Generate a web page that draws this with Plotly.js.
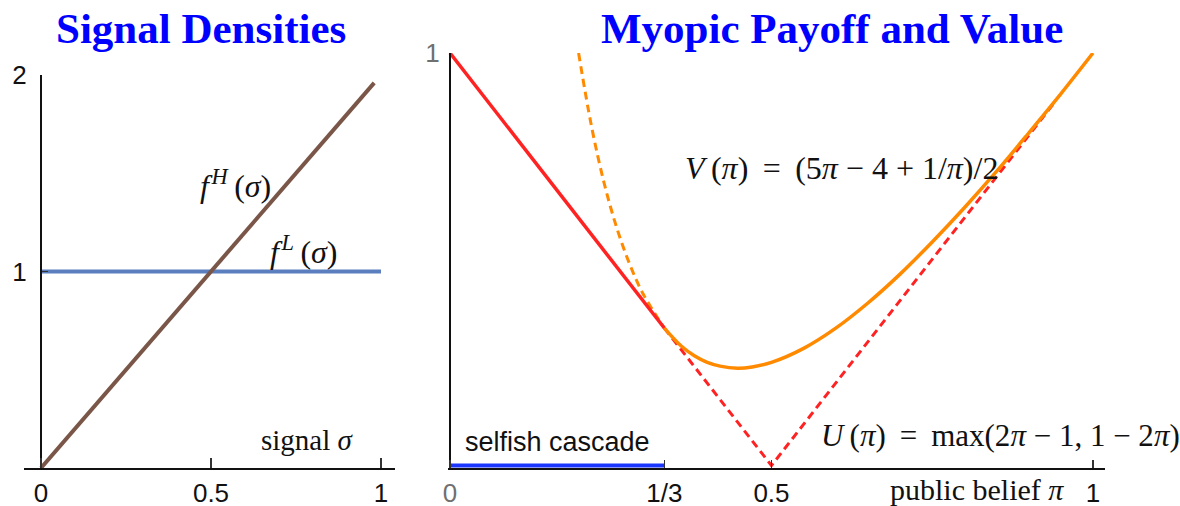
<!DOCTYPE html>
<html>
<head>
<meta charset="utf-8">
<script src="https://cdn.plot.ly/plotly-3.0.1.min.js"></script>
<style>html,body{margin:0;padding:0;background:#fff}#chart{width:1180px;height:506px}</style>
</head>
<body>
<div id="chart"></div>
<script>
// ---- Left panel: signal densities ----
const sigmaH = [0, 0.98];
const densH = [0, 1.96];
const sigmaL = [0, 1];
const densL = [1, 1];
const leftXTicks = [0, 0.5, 1];
const leftXLabels = ['0', '0.5', '1'];
const leftYTicks = [1, 2];
const leftYLabels = ['1', '2'];

// ---- Right panel: myopic payoff and value ----
const piUSolid = [0, 0.3333];
const uSolid = [1, 0.3333];
const piUDash = [0.3333, 0.5, 0.94];
const uDash = [0.3333, 0, 0.88];
const piV = [0.3333, 0.36, 0.38, 0.40, 0.42, 0.447, 0.47, 0.50, 0.55, 0.60, 0.65, 0.70, 0.75, 0.80, 0.85, 0.90, 0.95, 1.0];
const vVal = [0.333, 0.289, 0.266, 0.250, 0.241, 0.236, 0.239, 0.250, 0.284, 0.333, 0.394, 0.464, 0.542, 0.625, 0.713, 0.806, 0.901, 1.0];
const piVDash = [0.20, 0.22, 0.24, 0.26, 0.28, 0.30, 0.3333];
const vDash = [1.0, 0.823, 0.683, 0.573, 0.486, 0.417, 0.333];
const cascadePi = [0, 0.3333];
const cascadeY = [0, 0];
const rightXTicks = [0, 0.3333, 0.5, 1];
const rightXLabels = ['<span style="color:#707070">0</span>', '1/3', '0.5', '1'];
const rightYTicks = [1];
const rightYLabels = ['<span style="color:#707070">1</span>'];

const W = 1180, H = 506;
const px = v => v / W, py = v => 1 - v / H;
const serif = 'Liberation Serif, Times New Roman, serif';
const sans = 'Liberation Sans, Arial, sans-serif';

const traces = [
  {x: sigmaL, y: densL, xaxis: 'x', yaxis: 'y', mode: 'lines', line: {color: '#5b7fbe', width: 4}, hoverinfo: 'skip'},
  {x: sigmaH, y: densH, xaxis: 'x', yaxis: 'y', mode: 'lines', line: {color: '#7a5648', width: 4}, hoverinfo: 'skip'},
  {x: piVDash, y: vDash, xaxis: 'x2', yaxis: 'y2', mode: 'lines', line: {color: '#ff8a00', width: 3, dash: '8px,5px', shape: 'spline'}, hoverinfo: 'skip'},
  {x: piUDash, y: uDash, xaxis: 'x2', yaxis: 'y2', mode: 'lines', line: {color: '#ff2222', width: 3, dash: '8px,5px'}, hoverinfo: 'skip'},
  {x: piUSolid, y: uSolid, xaxis: 'x2', yaxis: 'y2', mode: 'lines', line: {color: '#ff2222', width: 3.5}, hoverinfo: 'skip'},
  {x: piV, y: vVal, xaxis: 'x2', yaxis: 'y2', mode: 'lines', line: {color: '#ff8a00', width: 3.5, shape: 'spline'}, hoverinfo: 'skip'},
  {x: cascadePi, y: cascadeY, xaxis: 'x2', yaxis: 'y2', mode: 'lines', line: {color: '#1a36ff', width: 4}, hoverinfo: 'skip'}
];

const axisCommon = {showgrid: false, zeroline: false, showline: true, linecolor: '#111', linewidth: 2,
  ticks: 'inside', tickcolor: '#333', tickwidth: 1.5, fixedrange: true, automargin: false,
  tickfont: {family: sans, size: 26, color: '#111'}, tickmode: 'array'};

const layout = {
  width: W, height: H,
  margin: {l: 0, r: 0, t: 0, b: 0},
  paper_bgcolor: '#fff', plot_bgcolor: 'rgba(0,0,0,0)',
  showlegend: false,
  xaxis: Object.assign({}, axisCommon, {domain: [px(24), px(395)], range: [-0.05, 1.0412], anchor: 'y',
    tickvals: leftXTicks, ticktext: leftXLabels, ticklen: 10, ticklabelstandoff: 1}),
  yaxis: Object.assign({}, axisCommon, {domain: [1 - 468 / H, 1 - 75 / H], range: [0, 2], anchor: 'free', position: px(41),
    tickvals: leftYTicks, ticktext: leftYLabels, ticklen: 6, ticklabelstandoff: 8}),
  xaxis2: Object.assign({}, axisCommon, {domain: [px(448), px(1105)], range: [-0.0031, 1.0187], anchor: 'y2',
    tickvals: rightXTicks, ticktext: rightXLabels, ticklen: 8, ticklabelstandoff: 1}),
  yaxis2: Object.assign({}, axisCommon, {domain: [1 - 468 / H, 1 - 53 / H], range: [-0.006, 1], anchor: 'free', position: px(450),
    tickvals: rightYTicks, ticktext: rightYLabels, ticklen: 6, ticklabelstandoff: 4}),
  annotations: [
    {text: '<b>Signal Densities</b>', x: px(201), y: py(28), xref: 'paper', yref: 'paper', showarrow: false,
      xanchor: 'center', yanchor: 'middle', font: {family: serif, size: 43, color: '#0000ff'}},
    {text: '<b>Myopic Payoff and Value</b>', x: px(832), y: py(28), xref: 'paper', yref: 'paper', showarrow: false,
      xanchor: 'center', yanchor: 'middle', font: {family: serif, size: 43, color: '#0000ff'}},
    {text: '<i>f</i>&#8202;<sup><i>H</i></sup>&#8201;(<i>σ</i>)', x: px(235), y: py(184), xref: 'paper', yref: 'paper', showarrow: false,
      xanchor: 'center', yanchor: 'middle', font: {family: serif, size: 32, color: '#111'}},
    {text: '<i>f</i>&#8202;<sup><i>L</i></sup>&#8201;(<i>σ</i>)', x: px(304), y: py(250), xref: 'paper', yref: 'paper', showarrow: false,
      xanchor: 'center', yanchor: 'middle', font: {family: serif, size: 32, color: '#111'}},
    {text: 'signal <i>σ</i>', x: px(307), y: py(440), xref: 'paper', yref: 'paper', showarrow: false,
      xanchor: 'center', yanchor: 'middle', font: {family: serif, size: 29, color: '#111'}},
    {text: '<i>V</i>&#8201;(<i>π</i>)&#8201; = &#8201;(5<i>π</i> − 4 + 1/<i>π</i>)/2', x: px(841), y: py(168), xref: 'paper', yref: 'paper', showarrow: false,
      xanchor: 'center', yanchor: 'middle', font: {family: serif, size: 32, color: '#111'}},
    {text: '<i>U</i>&#8201;(<i>π</i>)&#8201; = &#8201;max(2<i>π</i> − 1, 1 − 2<i>π</i>)', x: px(1000), y: py(435), xref: 'paper', yref: 'paper', showarrow: false,
      xanchor: 'center', yanchor: 'middle', font: {family: serif, size: 31, color: '#111'}},
    {text: 'public belief <i>π</i>', x: px(977), y: py(489), xref: 'paper', yref: 'paper', showarrow: false,
      xanchor: 'center', yanchor: 'middle', font: {family: serif, size: 30, color: '#111'}},
    {text: 'selfish cascade', x: px(557), y: py(442), xref: 'paper', yref: 'paper', showarrow: false,
      xanchor: 'center', yanchor: 'middle', font: {family: sans, size: 27, color: '#111'}}
  ]
};

Plotly.newPlot('chart', traces, layout, {displayModeBar: false, staticPlot: true});
</script>
</body>
</html>
